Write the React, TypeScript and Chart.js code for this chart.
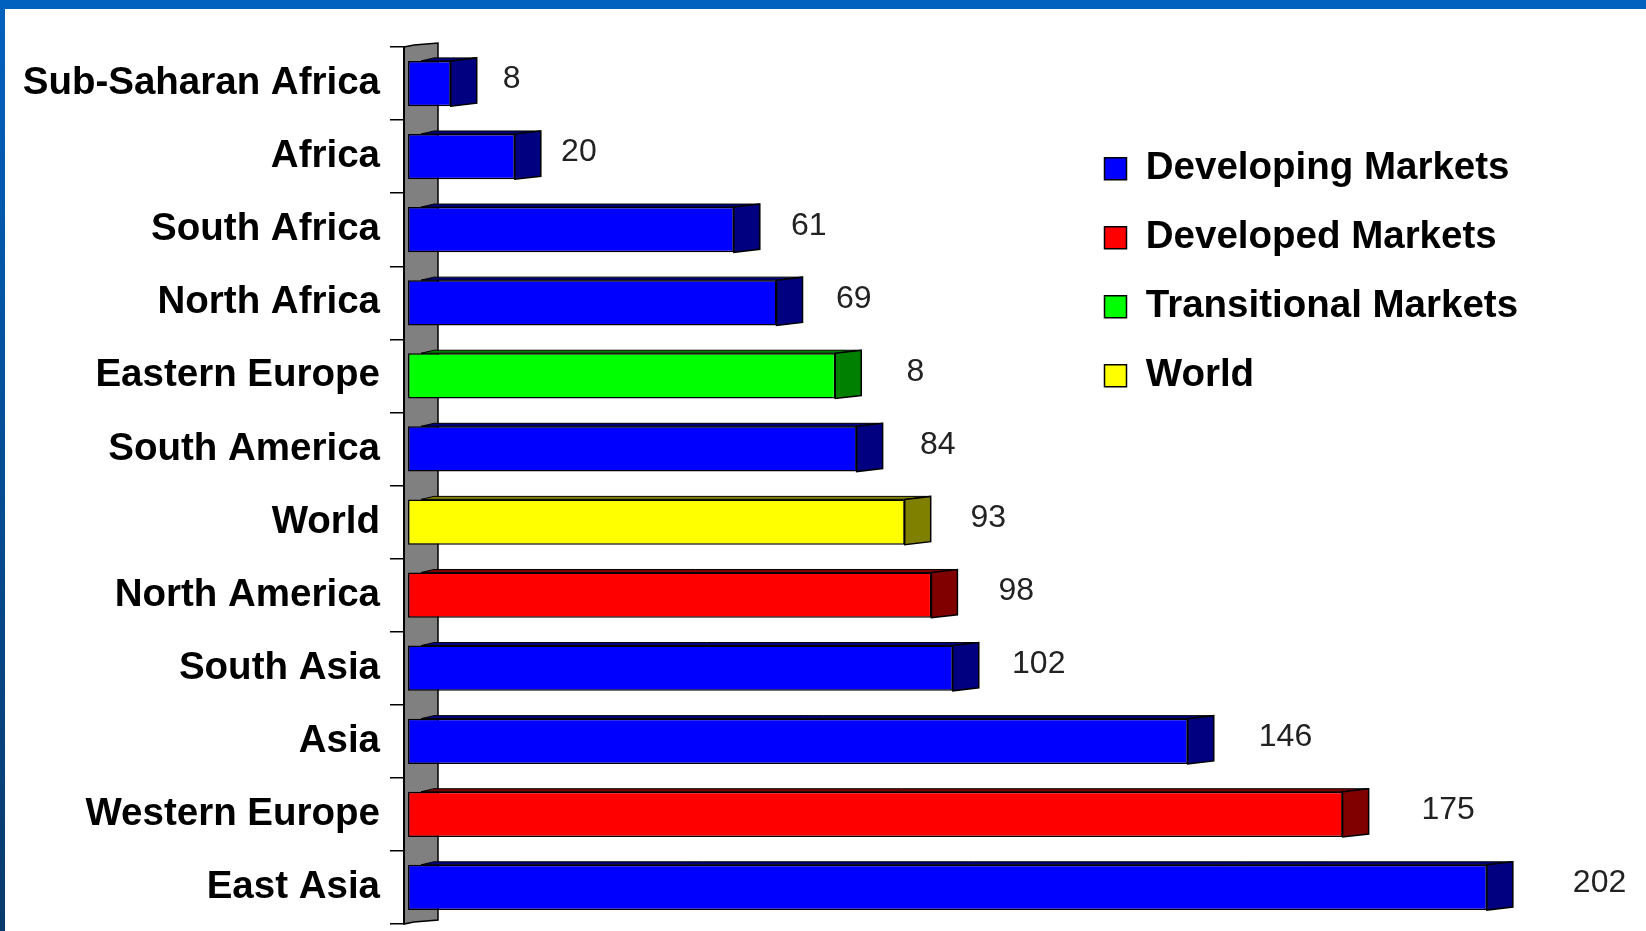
import React, { useEffect, useRef } from "react";
import { Chart, registerables } from "chart.js";

Chart.register(...registerables);

const categories = [
  "Sub-Saharan Africa",
  "Africa",
  "South Africa",
  "North Africa",
  "Eastern Europe",
  "South America",
  "World",
  "North America",
  "South Asia",
  "Asia",
  "Western Europe",
  "East Asia",
];
const values = [8, 20, 61, 69, 80, 84, 93, 98, 102, 146, 175, 202];
const valueLabels = ["8", "20", "61", "69", "8", "84", "93", "98", "102", "146", "175", "202"];
const marketGroups = [
  "Developing Markets",
  "Developing Markets",
  "Developing Markets",
  "Developing Markets",
  "Transitional Markets",
  "Developing Markets",
  "World",
  "Developed Markets",
  "Developing Markets",
  "Developing Markets",
  "Developed Markets",
  "Developing Markets",
];
const legendLabels = ["Developing Markets", "Developed Markets", "Transitional Markets", "World"];

const FRONT: Record<string, string> = {
  "Developing Markets": "#0000FF",
  "Developed Markets": "#FF0000",
  "Transitional Markets": "#00FF00",
  World: "#FFFF00",
};
const SIDE: Record<string, string> = {
  "Developing Markets": "#000080",
  "Developed Markets": "#800000",
  "Transitional Markets": "#008000",
  World: "#808000",
};

const FONT = "'Liberation Sans', Arial, Helvetica, sans-serif";
const DEPTH_X = 26;
const DEPTH_Y = 3;
const WALL_W = 34;

const threeD = {
  id: "threeD",
  beforeDraw(chart: any) {
    const { ctx, width, height } = chart;
    ctx.save();
    ctx.fillStyle = "#FFFFFF";
    ctx.fillRect(0, 0, width, height);
    ctx.fillStyle = "#0061BE";
    ctx.fillRect(0, 0, width, 9);
    const g = ctx.createLinearGradient(0, 0, 0, height);
    g.addColorStop(0, "#0061BE");
    g.addColorStop(1, "#0A3A6C");
    ctx.fillStyle = g;
    ctx.fillRect(0, 0, 5, height);
    ctx.restore();
  },
  afterLayout(chart: any) {
    const lg = chart.legend;
    const ca = chart.chartArea;
    if (!lg || !ca) return;
    lg.left = ca.left + 670;
    lg.top = ca.top + 72;
    lg.right = chart.width;
    lg.bottom = ca.bottom;
    lg.width = lg.right - lg.left;
    lg.height = lg.bottom - lg.top;
  },
  beforeDatasetsDraw(chart: any) {
    const { ctx, chartArea: ca } = chart;
    const l = ca.left;
    const r = ca.left + WALL_W;
    ctx.save();
    ctx.beginPath();
    ctx.moveTo(l, ca.top);
    ctx.lineTo(l + 10, ca.top - 2);
    ctx.lineTo(r, ca.top - 4);
    ctx.lineTo(r, ca.bottom - 4);
    ctx.lineTo(l + 10, ca.bottom - 2);
    ctx.lineTo(l, ca.bottom);
    ctx.closePath();
    ctx.fillStyle = "#808080";
    ctx.fill();
    ctx.lineWidth = 1.5;
    ctx.strokeStyle = "#000000";
    ctx.stroke();
    ctx.beginPath();
    ctx.moveTo(l, ca.top);
    ctx.lineTo(l, ca.bottom);
    ctx.lineWidth = 2;
    ctx.stroke();
    ctx.restore();
  },
  afterDatasetsDraw(chart: any) {
    const { ctx } = chart;
    const meta = chart.getDatasetMeta(0);
    const xScale = chart.scales.x;
    ctx.save();
    meta.data.forEach((el: any, i: number) => {
      const v = values[i];
      if (v == null) return;
      const top = el.y - el.height / 2;
      const bottom = el.y + el.height / 2;
      const x = el.x;
      const base = el.base;
      const side = SIDE[marketGroups[i]];
      ctx.lineJoin = "miter";
      // top face
      ctx.beginPath();
      ctx.moveTo(base + DEPTH_X / 2, top);
      ctx.lineTo(base + DEPTH_X, top - DEPTH_Y);
      ctx.lineTo(x + DEPTH_X, top - DEPTH_Y);
      ctx.lineTo(x, top);
      ctx.closePath();
      ctx.fillStyle = side;
      ctx.fill();
      ctx.strokeStyle = "#000000";
      ctx.lineWidth = 1;
      ctx.stroke();
      // side face
      ctx.beginPath();
      ctx.moveTo(x, top);
      ctx.lineTo(x + DEPTH_X, top - DEPTH_Y);
      ctx.lineTo(x + DEPTH_X, bottom - DEPTH_Y);
      ctx.lineTo(x, bottom);
      ctx.closePath();
      ctx.fillStyle = side;
      ctx.fill();
      ctx.lineWidth = 1.5;
      ctx.stroke();
      // value label
      const lx = xScale.getPixelForValue(v * 1.05 + 11);
      ctx.fillStyle = "#222222";
      ctx.font = `32px ${FONT}`;
      ctx.textAlign = "center";
      ctx.textBaseline = "middle";
      ctx.fillText(valueLabels[i], lx, el.y - 4);
    });
    ctx.restore();
  },
};

export default function App() {
  const ref = useRef<HTMLCanvasElement | null>(null);
  useEffect(() => {
    if (!ref.current) return;
    const chart = new Chart(ref.current, {
      type: "bar",
      data: {
        labels: categories,
        datasets: [
          {
            label: "Markets",
            data: values,
            backgroundColor: marketGroups.map((g) => FRONT[g]),
            borderColor: "#000000",
            borderWidth: 1.5,
            borderSkipped: false,
            barPercentage: 0.62,
            categoryPercentage: 1.0,
          },
        ],
      },
      options: {
        indexAxis: "y",
        animation: false,
        responsive: false,
        maintainAspectRatio: false,
        events: [],
        layout: { padding: { top: 47, bottom: 7, left: 0, right: 55 } },
        scales: {
          x: {
            type: "linear",
            min: -0.75,
            max: 221.5,
            display: false,
          },
          y: {
            type: "category",
            offset: true,
            afterFit: (scale: any) => {
              scale.width = 404;
              scale.paddingTop = 0;
              scale.paddingBottom = 0;
            },
            grid: {
              display: true,
              offset: true,
              drawOnChartArea: false,
              drawTicks: true,
              tickLength: 14,
              color: "#000000",
              lineWidth: 1.5,
            },
            border: { display: true, color: "#000000", width: 2 },
            ticks: {
              autoSkip: false,
              padding: 10,
              color: "#000000",
              font: { family: FONT, size: 38.5, weight: "bold" },
            },
          },
        },
        plugins: {
          tooltip: { enabled: false },
          legend: {
            display: true,
            position: "chartArea",
            align: "start",
            labels: {
              boxWidth: 22,
              boxHeight: 22,
              padding: 30.5,
              color: "#000000",
              font: { family: FONT, size: 38.5, weight: "bold" },
              generateLabels: () =>
                legendLabels.map((t) => ({
                  text: t,
                  fillStyle: FRONT[t],
                  strokeStyle: "#000000",
                  lineWidth: 1.5,
                  fontColor: "#000000",
                  hidden: false,
                  datasetIndex: 0,
                })),
            },
          },
        },
      } as any,
      plugins: [threeD],
    });
    return () => chart.destroy();
  }, []);
  return (
    <div style={{ position: "fixed", left: 0, top: 0, width: 1646, height: 931, overflow: "hidden" }}>
      <canvas ref={ref} width={1646} height={931} style={{ display: "block", width: 1646, height: 931 }} />
    </div>
  );
}
